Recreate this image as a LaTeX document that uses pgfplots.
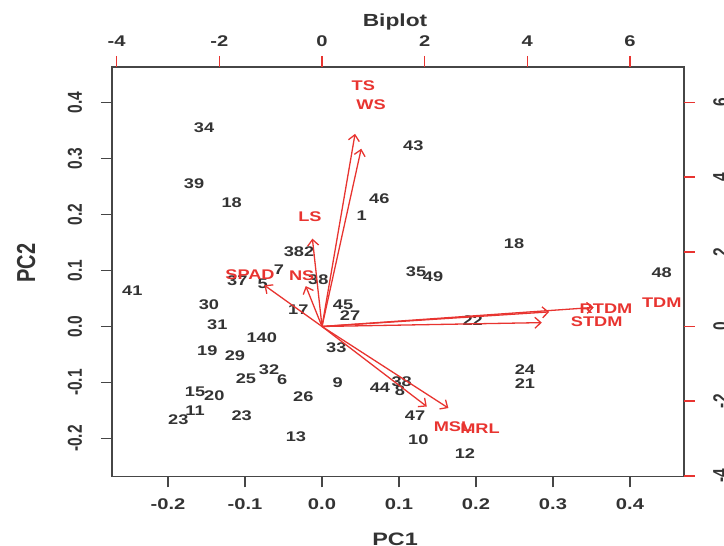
\documentclass[border=0pt]{standalone}
\usepackage{fontspec}
\setmainfont{Liberation Sans}
\usepackage{graphicx}
\usepackage{pgfplots}
\pgfplotsset{compat=1.18}
\usepackage{pgfplotstable}
\usetikzlibrary{arrows.meta}
\definecolor{bred}{RGB}{232,52,48}
\definecolor{dgray}{RGB}{70,70,70}
\definecolor{tgray}{RGB}{51,51,51}
\newcommand{\sx}[1]{\scalebox{1.3}[1]{#1}}
\newcommand{\sy}[1]{\scalebox{1}[1.3]{#1}}
\newcommand{\tickfont}{\fontsize{15.5}{16}\selectfont\bfseries}
\newcommand{\ptfont}{\fontsize{14}{14}\selectfont\bfseries}

\pgfplotstableread{
x y lab
-0.1532 0.3545 34
-0.1662 0.2545 39
-0.1173 0.2211 18
-0.2464 0.0634 41
-0.1468 0.0384 30
-0.1360 0.0039 31
-0.1490 -0.0432 19
-0.1130 -0.0527 29
-0.0783 -0.0193 140
-0.0987 -0.0932 25
-0.0688 -0.0777 32
-0.0516 -0.0955 6
-0.1649 -0.1170 15
-0.1399 -0.1236 20
-0.1649 -0.1504 11
-0.1866 -0.1657 23
-0.1043 -0.1586 23
-0.0243 -0.1254 26
-0.0338 -0.1968 13
0.0204 -0.1009 9
0.0186 -0.0371 33
-0.0308 0.0295 17
-0.0770 0.0759 5
-0.1100 0.0818 37
-0.0558 0.1009 7
-0.0299 0.1336 382
-0.0048 0.0830 38
0.0273 0.0384 45
0.0364 0.0188 27
0.0516 0.1973 1
0.0744 0.2277 46
0.1186 0.3223 43
0.1221 0.0973 35
0.1442 0.0884 49
0.2494 0.1473 18
0.4412 0.0968 48
0.1957 0.0104 22
0.2636 -0.0764 24
0.2636 -0.1027 21
0.0753 -0.1086 44
0.1035 -0.0991 38
0.1013 -0.1146 8
0.1208 -0.1598 47
0.1251 -0.2014 10
0.1857 -0.2264 12
}\scores

\pgfplotstableread{
u v name
0.805 6.451 TS
0.955 5.952 WS
-0.234 2.941 LS
-0.395 1.353 NS
-1.403 1.380 SPAD
5.533 0.488 RTDM
5.352 0.129 STDM
6.618 0.638 TDM
2.552 -2.679 MSL
3.078 -2.732 MRL
}\loadings

\begin{document}
\begin{tikzpicture}[x=1pt,y=1pt]
\begin{axis}[
  at={(112pt,69.5pt)}, anchor=south west,
  width=572pt, height=409.5pt, scale only axis,
  xmin=-0.27273, xmax=0.47013, ymin=-0.2679, ymax=0.4634,
  clip=false,
  axis line style={dgray, line width=1.4pt},
  tick align=outside, major tick length=11pt,
  xtick pos=left, ytick pos=left,
  every tick/.style={dgray, line width=1.4pt},
  xtick={-0.2,-0.1,0,0.1,0.2,0.3,0.4},
  xticklabels={\sx{-0.2},\sx{-0.1},\sx{0.0},\sx{0.1},\sx{0.2},\sx{0.3},\sx{0.4}},
  ytick={-0.2,-0.1,0,0.1,0.2,0.3,0.4},
  yticklabels={\sy{-0.2},\sy{-0.1},\sy{0.0},\sy{0.1},\sy{0.2},\sy{0.3},\sy{0.4}},
  xticklabel shift=22pt, yticklabel shift=19pt,
  xticklabel style={font=\tickfont, text=tgray, anchor=base, inner sep=0pt},
  yticklabel style={font=\tickfont, text=tgray, rotate=90, anchor=base, inner sep=0pt},
  every axis title shift=0pt,
  title={\sx{Biplot}},
  title style={at={(axis description cs:0.4948,1.0977)}, anchor=base, inner sep=0pt, font=\fontsize{17.5}{18}\selectfont\bfseries, text=tgray},
  xlabel={\sx{PC1}},
  xlabel style={at={(axis description cs:0.4948,-0.1673)}, anchor=base, inner sep=0pt, font=\fontsize{18}{18}\selectfont\bfseries, text=tgray},
  ylabel={\sy{PC2}},
  ylabel style={at={(axis description cs:-0.1346,0.5214)}, anchor=base, inner sep=0pt, font=\fontsize{20}{20}\selectfont\bfseries, text=tgray},
]
\addplot[only marks, mark=none, point meta=explicit symbolic,
  nodes near coords={\sx{\pgfplotspointmeta}}, nodes near coords align=center,
  nodes near coords style={font=\ptfont, text=tgray, inner sep=0pt}]
  table[x=x, y=y, meta=lab] {\scores};
\end{axis}
\begin{axis}[
  at={(112pt,69.5pt)}, anchor=south west,
  width=572pt, height=409.5pt, scale only axis,
  xmin=-4.0910, xmax=7.0520, ymin=-4.0185, ymax=6.951,
  clip=false,
  axis line style={draw=none},
  tick align=outside, major tick length=11pt,
  xtick pos=right, ytick pos=right, xticklabel pos=right, yticklabel pos=right,
  every tick/.style={bred, line width=1.4pt},
  xtick={-4,-2,0,2,4,6},
  xticklabels={\sx{-4},\sx{-2},\sx{0},\sx{2},\sx{4},\sx{6}},
  ytick={-4,-2,0,2,4,6},
  yticklabels={\sy{-4},\sy{-2},\sy{0},\sy{2},\sy{4},\sy{6}},
  xticklabel shift=9pt, yticklabel shift=18pt,
  xticklabel style={font=\tickfont, text=tgray, anchor=base, inner sep=0pt},
  yticklabel style={font=\tickfont, text=tgray, rotate=90, anchor=north, inner sep=0pt},
]
\addplot[bred, line width=1.3pt, -{Straight Barb[length=6pt,width=11pt]},
  quiver={u=\thisrow{u}, v=\thisrow{v}, scale arrows=0.8}]
  table[x expr=0, y expr=0] {\loadings};
\addplot[only marks, mark=none, point meta=explicit symbolic,
  nodes near coords={\sx{\pgfplotspointmeta}}, nodes near coords align=center,
  nodes near coords style={font=\ptfont, text=bred, inner sep=0pt}]
  table[x=u, y=v, meta=name] {\loadings};
\end{axis}
\pgfresetboundingbox
\path[use as bounding box] (0,0) rectangle (724,546);
\end{tikzpicture}
\end{document}
